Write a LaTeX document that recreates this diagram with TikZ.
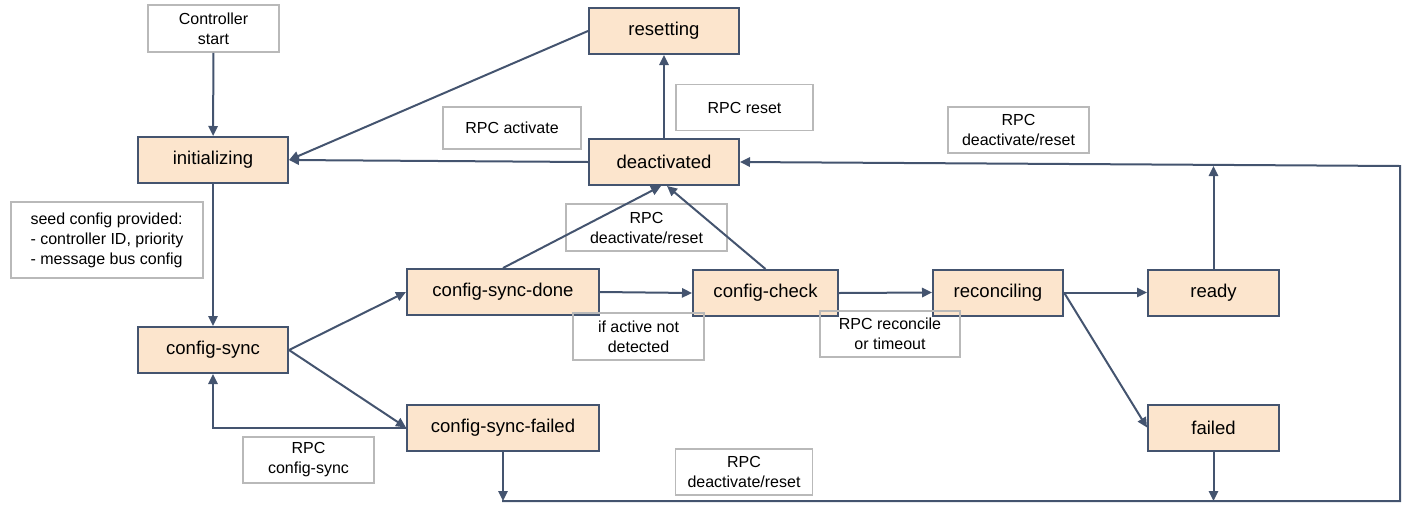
\documentclass[tikz,border=0pt]{standalone}
\usepackage{fontspec}
\setmainfont{Liberation Sans}
\usetikzlibrary{arrows.meta,calc}
\definecolor{statefill}{HTML}{FCE5CD}
\definecolor{edgecol}{HTML}{44546F}
\definecolor{notegray}{HTML}{B9B9B9}

\begin{document}
\begin{tikzpicture}[x=0.75pt,y=-0.75pt,
  state/.style={draw=edgecol, line width=1.5pt, fill=statefill, inner sep=0pt,
    minimum height=34.5pt, font=\fontsize{13.9}{16}\selectfont},
  note/.style={draw=notegray, line width=1.4pt, inner sep=0pt,
    minimum height=34.5pt, align=center, font=\fontsize{12}{15}\selectfont},
  flow/.style={draw=edgecol, line width=1.5pt,
    -{Triangle[length=7.5pt,width=7pt]}}
]
\useasboundingbox (0,0) rectangle (1402,504);

% states
\node[state, minimum width=112.5pt] (init)    at (213,160)    {initializing};
\node[state, minimum width=112.5pt] (reset)   at (664,31)     {resetting};
\node[state, minimum width=112.5pt] (deact)   at (664,162)    {deactivated};
\node[state, minimum width=112.5pt] (csync)   at (213,350)    {config-sync};
\node[state, minimum width=144pt]   (csdone)  at (503,292)    {config-sync-done};
\node[state, minimum width=108.75pt](ccheck)  at (765.5,293)  {config-check};
\node[state, minimum width=144pt]   (csfail)  at (503,427.5)  {config-sync-failed};
\node[state, minimum width=97.5pt]  (recon)   at (998,292.5)  {reconciling};
\node[state, minimum width=98.25pt] (ready)   at (1213.5,292.5) {ready};
\node[state, minimum width=98.25pt] (failed)  at (1213.5,427.5) {failed};

% transition notes
\node[note, minimum width=98.25pt, minimum height=35.25pt] (start) at (213.5,28.5) {Controller\\start};
\node[note, minimum width=102.75pt] (nreset) at (744.5,107.5) {RPC reset};
\node[note, minimum width=103.5pt, minimum height=31.5pt] (nact) at (512,128) {RPC activate};
\node[note, minimum width=144pt, minimum height=57pt, align=left] (nseed) at (107,240)
  {seed config provided:\\- controller ID, priority\\- message bus config};
\node[note, minimum width=120.75pt, minimum height=35.25pt] (ndeact1) at (646.5,227.5) {RPC\\deactivate/reset};
\node[note, minimum width=98.25pt, minimum height=35.25pt] (nactive) at (638.5,336.5) {if active not\\detected};
\node[note, minimum width=98.25pt] (ncsync) at (308.5,460) {RPC\\config-sync};
\node[note, minimum width=102.75pt] (ndeact2) at (744,472) {RPC\\deactivate/reset};
\node[note, minimum width=105pt] (nrecon) at (890,334) {RPC reconcile\\or timeout};
\node[note, minimum width=105.75pt] (ndeact3) at (1018.5,130) {RPC\\deactivate/reset};

% connectors
\draw[flow] (start) -- (init);
\draw[flow] (reset.west) -- (init.east);
\draw[flow] (deact.west) -- (init.east);
\draw[flow] (deact.north) -- (reset.south);
\draw[flow] (init) -- (csync);
\draw[flow] (csync.east) -- (csdone.west);
\draw[flow] (csync.east) -- (csfail.west);
\draw[flow] (csfail.west) -- (csync.south |- csfail.west) -- (csync.south);
\draw[flow] (csdone.north) -- ($(deact.south)+(-3,0)$);
\draw[flow] (ccheck.north) -- ($(deact.south)+(3,0)$);
\draw[flow] (csdone.east) -- (ccheck.west);
\draw[flow] (ccheck.east) -- (recon.west);
\draw[flow] (recon.east) -- (ready.west);
\draw[flow] (recon.east) -- (failed.west);

% return bus to deactivated
\coordinate (busL) at (502,501);
\coordinate (busR) at (1400,501);
\coordinate (busT) at (1400,166);
\draw[flow] (busL) -- (busR) -- (busT) -- (deact.east);
\draw[flow] (csfail.south) -- (csfail.south |- busL);
\draw[flow] (failed.south) -- (failed.south |- busL);
\draw[flow] (ready.north) -- (ready.north |- busT);
\end{tikzpicture}
\end{document}
